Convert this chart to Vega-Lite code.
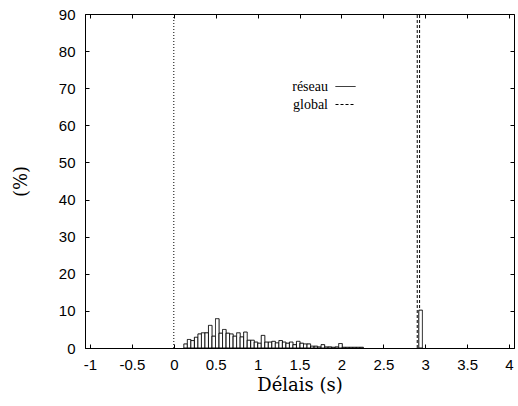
{
  "$schema": "https://vega.github.io/schema/vega-lite/v6.json",
  "width": 429,
  "height": 334,
  "autosize": {"type": "none"},
  "padding": {"left": 85, "top": 14, "right": 4, "bottom": 58},
  "background": "white",
  "config": {
    "view": {"stroke": "black", "strokeWidth": 1},
    "axis": {
      "grid": false,
      "domainColor": "black",
      "tickColor": "black",
      "tickSize": 4,
      "tickWidth": 1,
      "labelColor": "black",
      "labelFont": "Liberation Sans",
      "labelFontSize": 15,
      "titleFont": "DejaVu Serif",
      "titleFontSize": 18,
      "titleFontWeight": "normal",
      "titleColor": "black"
    }
  },
  "datasets": {
    "reseau": [
      {"delai": 0.141, "pct": 1.1, "series": "réseau"},
      {"delai": 0.183, "pct": 2.3, "series": "réseau"},
      {"delai": 0.225, "pct": 2.0, "series": "réseau"},
      {"delai": 0.267, "pct": 2.9, "series": "réseau"},
      {"delai": 0.309, "pct": 3.8, "series": "réseau"},
      {"delai": 0.351, "pct": 4.1, "series": "réseau"},
      {"delai": 0.393, "pct": 4.1, "series": "réseau"},
      {"delai": 0.435, "pct": 6.1, "series": "réseau"},
      {"delai": 0.477, "pct": 3.2, "series": "réseau"},
      {"delai": 0.519, "pct": 7.9, "series": "réseau"},
      {"delai": 0.561, "pct": 4.0, "series": "réseau"},
      {"delai": 0.603, "pct": 5.0, "series": "réseau"},
      {"delai": 0.645, "pct": 4.0, "series": "réseau"},
      {"delai": 0.687, "pct": 3.8, "series": "réseau"},
      {"delai": 0.729, "pct": 3.2, "series": "réseau"},
      {"delai": 0.771, "pct": 4.1, "series": "réseau"},
      {"delai": 0.813, "pct": 3.0, "series": "réseau"},
      {"delai": 0.855, "pct": 4.3, "series": "réseau"},
      {"delai": 0.897, "pct": 2.1, "series": "réseau"},
      {"delai": 0.939, "pct": 2.1, "series": "réseau"},
      {"delai": 0.981, "pct": 1.6, "series": "réseau"},
      {"delai": 1.023, "pct": 1.3, "series": "réseau"},
      {"delai": 1.065, "pct": 3.4, "series": "réseau"},
      {"delai": 1.107, "pct": 1.6, "series": "réseau"},
      {"delai": 1.149, "pct": 1.6, "series": "réseau"},
      {"delai": 1.191, "pct": 1.8, "series": "réseau"},
      {"delai": 1.233, "pct": 1.4, "series": "réseau"},
      {"delai": 1.275, "pct": 2.0, "series": "réseau"},
      {"delai": 1.317, "pct": 1.6, "series": "réseau"},
      {"delai": 1.359, "pct": 1.3, "series": "réseau"},
      {"delai": 1.401, "pct": 1.6, "series": "réseau"},
      {"delai": 1.443, "pct": 0.9, "series": "réseau"},
      {"delai": 1.485, "pct": 1.8, "series": "réseau"},
      {"delai": 1.527, "pct": 1.3, "series": "réseau"},
      {"delai": 1.569, "pct": 1.1, "series": "réseau"},
      {"delai": 1.611, "pct": 1.1, "series": "réseau"},
      {"delai": 1.653, "pct": 0.5, "series": "réseau"},
      {"delai": 1.695, "pct": 0.5, "series": "réseau"},
      {"delai": 1.737, "pct": 0.3, "series": "réseau"},
      {"delai": 1.779, "pct": 0.9, "series": "réseau"},
      {"delai": 1.821, "pct": 0.3, "series": "réseau"},
      {"delai": 1.863, "pct": 0.3, "series": "réseau"},
      {"delai": 1.905, "pct": 0.2, "series": "réseau"},
      {"delai": 1.947, "pct": 0.3, "series": "réseau"},
      {"delai": 1.989, "pct": 1.2, "series": "réseau"},
      {"delai": 2.031, "pct": 0.2, "series": "réseau"},
      {"delai": 2.073, "pct": 0.2, "series": "réseau"},
      {"delai": 2.115, "pct": 0.2, "series": "réseau"},
      {"delai": 2.157, "pct": 0.2, "series": "réseau"},
      {"delai": 2.199, "pct": 0.2, "series": "réseau"},
      {"delai": 2.241, "pct": 0.2, "series": "réseau"},
      {"delai": 2.945, "pct": 10.2, "series": "réseau"}
    ],
    "global": [
      {"delai": 2.905, "series": "global"},
      {"delai": 2.933, "series": "global"}
    ],
    "zero": [{"delai": 0}]
  },
  "resolve": {"axis": {"x": "independent", "y": "independent"}},
  "layer": [
    {
      "data": {"name": "zero"},
      "mark": {"type": "rule", "color": "black", "strokeWidth": 1, "strokeDash": [1, 2]},
      "encoding": {
        "x": {
          "field": "delai", "type": "quantitative",
          "scale": {"domain": [-1, 4], "nice": false},
          "axis": {"orient": "bottom", "ticks": false, "values": [-1, -0.5, 0, 0.5, 1, 1.5, 2, 2.5, 3, 3.5, 4], "labelExpr": "toString(datum.value)", "title": "Délais (s)", "labelPadding": 9, "titlePadding": 4, "labelFlush": false, "labelOverlap": false}
        },
        "y": {
          "datum": 0, "type": "quantitative",
          "scale": {"domain": [0, 90], "nice": false},
          "axis": {"orient": "left", "offset": -429, "labels": false, "domain": false, "title": null, "values": [0, 10, 20, 30, 40, 50, 60, 70, 80, 90]}
        },
        "y2": {"datum": 90}
      }
    },
    {
      "data": {"name": "global"},
      "mark": {"type": "rule", "color": "black", "strokeWidth": 1},
      "encoding": {
        "x": {
          "field": "delai", "type": "quantitative",
          "axis": {"orient": "bottom", "offset": -334, "labels": false, "domain": false, "title": null, "values": [-1, -0.5, 0, 0.5, 1, 1.5, 2, 2.5, 3, 3.5, 4]}
        },
        "y": {
          "datum": 0, "type": "quantitative",
          "axis": {"orient": "right", "offset": -429, "labels": false, "domain": false, "title": null, "values": [0, 10, 20, 30, 40, 50, 60, 70, 80, 90]}
        },
        "y2": {"datum": 90},
        "strokeDash": {
          "field": "series", "type": "nominal",
          "scale": {"domain": ["réseau", "global"], "range": [[1, 0], [3, 2]]},
          "legend": {
            "title": null,
            "orient": "none",
            "legendX": 250,
            "legendY": 62,
            "symbolType": "stroke",
            "symbolSize": 400,
            "symbolStrokeWidth": 1,
            "symbolStrokeColor": "black",
            "labelFont": "Liberation Serif",
            "labelFontSize": 14,
            "labelColor": "black",
            "labelAlign": "right",
            "labelOffset": -28,
            "rowPadding": -5
          }
        }
      }
    },
    {
      "data": {"name": "reseau"},
      "mark": {"type": "bar", "size": 3.6, "fill": "white", "stroke": "black", "strokeWidth": 1, "clip": true},
      "encoding": {
        "x": {
          "field": "delai", "type": "quantitative",
          "axis": {"orient": "top", "offset": -334, "labels": false, "domain": false, "title": null, "values": [-1, -0.5, 0, 0.5, 1, 1.5, 2, 2.5, 3, 3.5, 4]}
        },
        "y": {
          "field": "pct", "type": "quantitative",
          "axis": {"orient": "left", "ticks": false, "values": [0, 10, 20, 30, 40, 50, 60, 70, 80, 90], "title": "(%)", "labelPadding": 10, "titlePadding": 28}
        },
        "strokeDash": {"field": "series", "type": "nominal"}
      }
    }
  ]
}
